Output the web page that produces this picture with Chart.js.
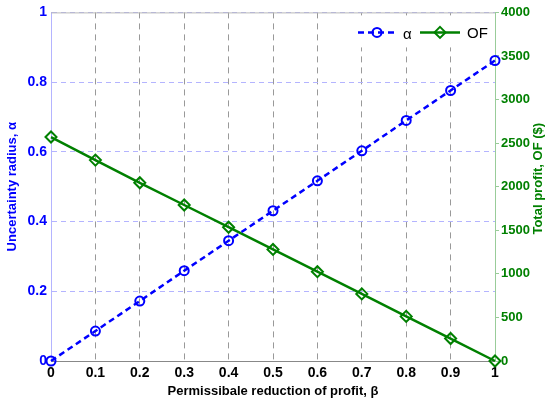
<!DOCTYPE html>
<html>
<head>
<meta charset="utf-8">
<script src="https://cdn.jsdelivr.net/npm/chart.js@4.4.1/dist/chart.umd.min.js"></script>
<style>
  html, body { margin: 0; padding: 0; background: #fff; }
  #wrap { width: 550px; height: 403px; }
</style>
</head>
<body>
<div id="wrap"><canvas id="chart" width="550" height="403"></canvas></div>
<script>
const betaValues = [0, 0.1, 0.2, 0.3, 0.4, 0.5, 0.6, 0.7, 0.8, 0.9, 1];
const alphaValues = [0, 0.086, 0.172, 0.259, 0.345, 0.431, 0.517, 0.603, 0.69, 0.776, 0.862];
const ofValues = [2570, 2305, 2045, 1790, 1535, 1280, 1025, 770, 512, 258, 0];

const BLUE = "#0000ff";
const GREEN = "#008000";
const FONT = "'Liberation Sans', Arial, sans-serif";

const fmt = v => String(Number(v.toFixed(1)));

// legend drawn inside the plot, top right (like matlab)
const insideLegend = {
  id: "insideLegend",
  afterDraw(chart) {
    const ctx = chart.ctx;
    const area = chart.chartArea;
    const y = area.top + 20;
    let x = area.right - 137;
    ctx.save();
    ctx.fillStyle = "#fff";
    ctx.fillRect(x - 2, area.top + 3, 135, 32);

    // alpha
    ctx.strokeStyle = BLUE;
    ctx.lineWidth = 2.5;
    ctx.setLineDash([6, 4]);
    ctx.beginPath();
    ctx.moveTo(x, y);
    ctx.lineTo(x + 38, y);
    ctx.stroke();
    ctx.setLineDash([]);
    ctx.lineWidth = 2;
    ctx.beginPath();
    ctx.arc(x + 19, y, 4.5, 0, Math.PI * 2);
    ctx.stroke();
    ctx.fillStyle = "#000";
    ctx.font = "15px " + FONT;
    ctx.textBaseline = "middle";
    ctx.fillText("α", x + 45, y + 2);

    // OF
    x += 62;
    ctx.strokeStyle = GREEN;
    ctx.lineWidth = 2.5;
    ctx.beginPath();
    ctx.moveTo(x, y);
    ctx.lineTo(x + 40, y);
    ctx.stroke();
    ctx.lineWidth = 2;
    ctx.beginPath();
    ctx.moveTo(x + 20, y - 5.5);
    ctx.lineTo(x + 25.5, y);
    ctx.lineTo(x + 20, y + 5.5);
    ctx.lineTo(x + 14.5, y);
    ctx.closePath();
    ctx.stroke();
    ctx.fillStyle = "#000";
    ctx.font = "15px " + FONT;
    ctx.fillText("OF", x + 47, y + 1);
    ctx.restore();
  }
};

// box line on top + right axis title reading upwards
const extras = {
  id: "extras",
  beforeDatasetsDraw(chart) {
    const ctx = chart.ctx;
    const a = chart.chartArea;
    ctx.save();
    ctx.strokeStyle = "#b8b8b8";
    ctx.lineWidth = 1;
    ctx.beginPath();
    ctx.moveTo(a.left, a.top + 0.5);
    ctx.lineTo(a.right, a.top + 0.5);
    ctx.stroke();
    ctx.restore();
  },
  afterDraw(chart) {
    const ctx = chart.ctx;
    const a = chart.chartArea;
    ctx.save();
    ctx.translate(538, (a.top + a.bottom) / 2 - 8);
    ctx.rotate(-Math.PI / 2);
    ctx.fillStyle = GREEN;
    ctx.font = "bold 13px " + FONT;
    ctx.textAlign = "center";
    ctx.textBaseline = "middle";
    ctx.fillText("Total profit, OF ($)", 0, 0);
    ctx.restore();
  }
};

const ctx = document.getElementById("chart").getContext("2d");

new Chart(ctx, {
  type: "line",
  data: {
    datasets: [
      {
        label: "α",
        data: betaValues.map((b, i) => ({ x: b, y: alphaValues[i] })),
        yAxisID: "y",
        borderColor: BLUE,
        backgroundColor: "rgba(0,0,0,0)",
        borderWidth: 2.5,
        borderDash: [6, 4],
        pointStyle: "circle",
        pointRadius: 4.5,
        pointBorderWidth: 2,
        pointBorderColor: BLUE,
        pointBackgroundColor: "rgba(0,0,0,0)",
        clip: false,
      },
      {
        label: "OF",
        data: betaValues.map((b, i) => ({ x: b, y: ofValues[i] })),
        yAxisID: "y1",
        borderColor: GREEN,
        backgroundColor: "rgba(0,0,0,0)",
        borderWidth: 2.5,
        pointStyle: "rectRot",
        pointRadius: 5.5,
        pointBorderWidth: 2,
        pointBorderColor: GREEN,
        pointBackgroundColor: "rgba(0,0,0,0)",
        clip: false,
      },
    ],
  },
  options: {
    responsive: false,
    animation: false,
    layout: { padding: { top: 12, left: 0, right: 0, bottom: 0 } },
    plugins: {
      legend: { display: false },
      tooltip: { enabled: false },
    },
    scales: {
      x: {
        type: "linear",
        min: 0,
        max: 1,
        afterFit: s => { s.height = 42; },
        ticks: {
          stepSize: 0.1,
          color: "#000",
          font: { family: FONT, size: 14, weight: "bold" },
          padding: 4,
          maxRotation: 0,
          callback: v => fmt(v),
        },
        grid: {
          color: "#999",
          lineWidth: 1,
          drawTicks: false,
        },
        border: { color: "#888", dash: [6, 5] },
        title: {
          display: true,
          text: "Permissibale reduction of profit, β",
          color: "#000",
          font: { family: FONT, size: 13, weight: "bold" },
          padding: { top: 0, bottom: 4 },
        },
      },
      y: {
        position: "left",
        min: 0,
        max: 1,
        afterFit: s => { s.width = 51; },
        ticks: {
          stepSize: 0.2,
          color: BLUE,
          font: { family: FONT, size: 14, weight: "bold" },
          padding: 4,
          callback: v => fmt(v),
        },
        grid: {
          color: "#b4b4ff",
          lineWidth: 1,
          drawTicks: false,
        },
        border: { color: "#b4b4ff", dash: [5, 4] },
        title: {
          display: true,
          text: "Uncertainty radius, α",
          color: BLUE,
          font: { family: FONT, size: 13, weight: "bold" },
          padding: { top: 5, bottom: 0 },
        },
      },
      y1: {
        position: "right",
        min: 0,
        max: 4000,
        afterFit: s => { s.width = 55; },
        ticks: {
          stepSize: 500,
          color: GREEN,
          font: { family: FONT, size: 13, weight: "bold" },
          padding: 2,
          callback: v => String(v),
        },
        grid: { drawOnChartArea: false, drawTicks: true, tickLength: 4, color: "#9c9" },
        border: { color: "#9c9" },
        title: { display: false },
      },
    },
  },
  plugins: [extras, insideLegend],
});
</script>
</body>
</html>
